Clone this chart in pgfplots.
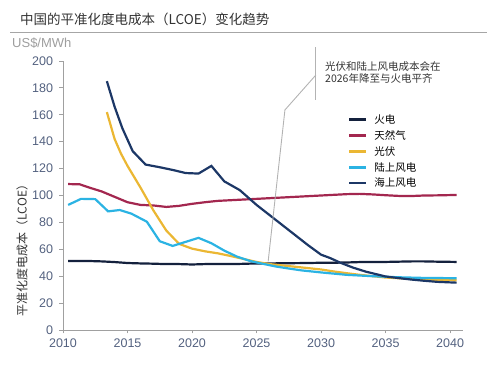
\documentclass[border=0pt]{standalone}
\usepackage{fontspec}
\setmainfont{Liberation Sans}
\newfontfamily\cjk{Noto Sans CJK SC}
\usepackage{pgfplots}
\pgfplotsset{compat=1.18}
\definecolor{cThermal}{HTML}{14213D}
\definecolor{cGas}{HTML}{A3274F}
\definecolor{cSolar}{HTML}{EBB733}
\definecolor{cOn}{HTML}{2BB3E3}
\definecolor{cOff}{HTML}{1C3766}
\definecolor{cTick}{HTML}{53617F}
\definecolor{cAxis}{HTML}{A0A0A0}
\newcommand{\ls}{\rule[-3pt]{0pt}{12pt}}
\begin{document}
\begin{tikzpicture}[x=1pt,y=1pt]
\useasboundingbox (0,0) rectangle (491,371);
\begin{axis}[
  at={(63pt,41pt)}, anchor=south west,
  scale only axis, width=400pt, height=269pt,
  xmin=2010, xmax=2041, ymin=0, ymax=200,
  axis x line*=bottom, axis y line*=left,
  axis line style={cAxis, line width=0.8pt},
  xtick={2010,2015,...,2040}, ytick={0,20,...,200},
  tick align=outside, major tick length=3.5pt,
  tick style={cAxis, line width=0.8pt},
  ticklabel style={font=\fontsize{12.5}{14}\selectfont, text=cTick},
  /pgf/number format/assume math mode=true,
  /pgf/number format/1000 sep={},
  xticklabel style={yshift=-2pt},
  yticklabel style={xshift=-3pt},
  clip=false,
  legend style={at={(0.7125,0.8025)}, anchor=north west, draw=none, fill=none,
    inner sep=0pt, row sep=3.9pt,
    font=\cjk\fontsize{10.5}{12}\selectfont,
    nodes={inner sep=0pt, anchor=base west}},
  legend cell align=left,
  legend image code/.code={\path[draw=none,fill=none] (0pt,-3pt) rectangle (25pt,9pt); \draw[#1, line width=2.6pt] (0pt,3.8pt) -- (17pt,3.8pt);},
  every axis plot/.append style={line width=2.2pt, no markers},
]
% thermal
\addplot[cThermal] coordinates {(2010.4,51.3)(2011,51.3)(2012,51.3)(2013,51)(2014,50.5)(2015,49.8)(2016,49.5)(2017,49.3)(2018,49)(2019,49)(2020,48.7)(2021,49)(2022,49)(2023,49)(2024,49.2)(2025,49.5)(2026,49.5)(2027,49.6)(2028,49.7)(2029,49.8)(2030,50)(2031,50)(2032,50.2)(2033,50.5)(2034,50.5)(2035,50.6)(2036,50.8)(2037,51)(2038,51)(2039,50.8)(2040.5,50.6)};
% gas
\addplot[cGas] coordinates {(2010.4,108.5)(2011.3,108.3)(2012,106)(2013,103)(2014,99)(2015,95)(2016,93)(2017,92.6)(2018,91.5)(2019,92.3)(2020,93.8)(2021,95)(2022,96)(2023,96.5)(2024,97)(2025,97.5)(2026,98)(2027,98.5)(2028,99)(2029,99.5)(2030,100)(2031,100.5)(2032,101)(2033,101.2)(2034,100.8)(2035,100.2)(2036,99.7)(2037,99.6)(2038,100)(2039,100.1)(2040.5,100.4)};
% solar
\addplot[cSolar] coordinates {(2013.4,162)(2014,142)(2014.5,131)(2015,122)(2016,106)(2017,89)(2018,74)(2019,64)(2020,60.5)(2021,58.5)(2022,57)(2023,55)(2024,52.8)(2025,50.6)(2026,49)(2027,48)(2028,47)(2029,46)(2030,45)(2031,43.5)(2032,42.2)(2033,41)(2034,40)(2035,39)(2036,38.5)(2037,38)(2038,37.6)(2039,37.3)(2040.5,37)};
% onshore wind
\addplot[cOn] coordinates {(2010.4,93)(2011.4,97.5)(2012.5,97.3)(2013.5,88.2)(2014.4,89.2)(2015.3,86.5)(2016.5,80.5)(2017.5,66)(2018.5,62.5)(2019.5,65.5)(2020.5,68.5)(2021.5,64.5)(2022.5,59)(2023.5,54.5)(2024.5,51.3)(2025.5,49.2)(2026.5,47.2)(2027.5,45.7)(2028.5,44.3)(2030,42.8)(2032,41)(2034,40)(2036,39.2)(2038,38.7)(2040.5,38.5)};
% offshore wind
\addplot[cOff] coordinates {(2013.4,185)(2014,166)(2014.6,150)(2015.4,133)(2016.4,123)(2017.5,121)(2018.5,119)(2019.5,116.7)(2020.5,116.3)(2021.5,122)(2022.5,110.5)(2023.7,104)(2025,93)(2026,85.5)(2027,78)(2028,70.5)(2029,63)(2030,56)(2030.7,53.5)(2031.5,50)(2032.5,46.3)(2033.5,43.3)(2035,39.8)(2036,38.6)(2037,37.5)(2038,36.6)(2039,35.8)(2040.5,35.2)};
\legend{\ls 火电,\ls 天然气,\ls 光伏,\ls 陆上风电,\ls 海上风电}
\draw[cAxis!80, line width=0.9pt] (axis cs:2025.9,51) -- (axis cs:2027.2,163.6) -- (axis cs:2029.6,189.6);
\draw[cAxis!80, line width=0.9pt] (axis cs:2029.6,171) -- (axis cs:2029.6,210.4);
\end{axis}
\node[anchor=base west, inner sep=0pt, font=\cjk\fontsize{13.5}{15}\selectfont, text=black!80] at (20,346) {中国的平准化度电成本（LCOE）变化趋势};
\draw[black!35, line width=0.9pt] (10,338.5) -- (487,338.5);
\node[anchor=west, inner sep=0pt, font=\fontsize{13}{15}\selectfont, text=black!38] at (12,328) {US\$/MWh};
\node[anchor=base west, inner sep=0pt, font=\cjk\fontsize{10.5}{12}\selectfont, text=black!80] at (325,300.5) {光伏和陆上风电成本会在};
\node[anchor=base west, inner sep=0pt, font=\cjk\fontsize{10.5}{12}\selectfont, text=black!80] at (325,288) {2026年降至与火电平齐};
\node[rotate=90, inner sep=0pt, font=\cjk\fontsize{12}{14}\selectfont, text=black!80] at (22,123.5) {平准化度电成本（LCOE）};
\end{tikzpicture}
\end{document}
